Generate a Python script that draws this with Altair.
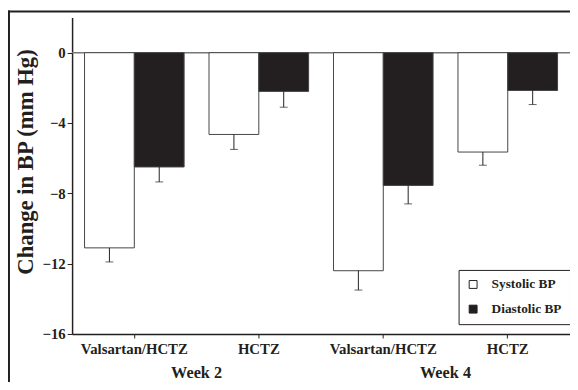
import altair as alt
import pandas as pd

# ---- data ----
groups = ["Valsartan/HCTZ|2", "HCTZ|2", "Valsartan/HCTZ|4", "HCTZ|4"]
series = ["Systolic BP", "Diastolic BP"]
systolic = [-11.1, -4.65, -12.4, -5.65]
systolic_err = [-11.9, -5.5, -13.5, -6.4]
diastolic = [-6.5, -2.2, -7.55, -2.15]
diastolic_err = [-7.35, -3.1, -8.6, -2.95]
weeks = ["Week 2", "Week 4"]
week_pos = [1, 3]
y_ticks = [0, -4, -8, -12, -16]

rows = []
for i, g in enumerate(groups):
    rows.append({"group": g, "series": series[0], "value": systolic[i], "err": systolic_err[i]})
    rows.append({"group": g, "series": series[1], "value": diastolic[i], "err": diastolic_err[i]})
df = pd.DataFrame(rows)
wk = pd.DataFrame({"week": weeks, "pos": week_pos})

FONT = "Liberation Serif"
INK = "#231f20"

xenc = alt.X("group:N", sort=groups,
             scale=alt.Scale(paddingInner=0.2, paddingOuter=0.1),
             axis=alt.Axis(title=None, labelExpr="split(datum.label, '|')[0]",
                           labelAngle=0, labelFont=FONT, labelFontSize=15,
                           labelFontWeight="bold", labelColor=INK, labelPadding=4,
                           tickSize=4, tickColor=INK, domainColor=INK,
                           domainWidth=1.5))
yenc = alt.Y("value:Q", scale=alt.Scale(domain=[-16, 2], nice=False, zero=False),
             axis=alt.Axis(values=y_ticks, title="Change in BP (mm Hg)", grid=False,
                           labelFont=FONT, labelFontSize=15, labelFontWeight="bold",
                           labelColor=INK, tickSize=5, tickColor=INK, labelPadding=2,
                           domainColor=INK, domainWidth=1.5,
                           titleFont=FONT, titleFontSize=23, titleFontWeight="bold",
                           titleColor=INK, titleAngle=-90, titleX=-47, titleY=146,
                           titleAlign="center", titleBaseline="middle"))
xoff = alt.XOffset("series:N", sort=series, scale=alt.Scale(paddingInner=0, paddingOuter=0))

base = alt.Chart(df)

bars = base.mark_bar(stroke="#444444", strokeWidth=1).encode(
    x=xenc, xOffset=xoff, y=yenc,
    fill=alt.Fill("series:N", sort=series,
                  scale=alt.Scale(domain=series, range=["#ffffff", INK]),
                  legend=alt.Legend(title=None, orient="none", legendX=392, legendY=256,
                                    symbolType="square", symbolSize=64,
                                    symbolStrokeColor=INK, symbolStrokeWidth=1,
                                    labelFont=FONT, labelFontSize=13.5,
                                    labelFontWeight="bold", labelColor=INK,
                                    labelOffset=12, rowPadding=10, padding=8,
                                    strokeColor=INK, fillColor="white")),
)

err_lines = base.mark_rule(color=INK, strokeWidth=1).encode(
    x=alt.X("group:N", sort=groups), xOffset=xoff,
    y=alt.Y("value:Q"), y2="err:Q")

caps = base.mark_tick(color=INK, thickness=1, size=8).encode(
    x=alt.X("group:N", sort=groups), xOffset=xoff, y=alt.Y("err:Q"))

zero = alt.Chart(pd.DataFrame({"z": [0]})).mark_rule(color="#777777", strokeWidth=1.5).encode(
    y=alt.Y("z:Q"))

frame_df = pd.DataFrame({"f": [0]})
frame_left = alt.Chart(frame_df).mark_rule(color=INK, strokeWidth=2).encode(
    x=alt.value(-64), y=alt.value(-7), y2=alt.value(380))
frame_top = alt.Chart(frame_df).mark_rule(color=INK, strokeWidth=2).encode(
    x=alt.value(-65), x2=alt.value(520), y=alt.value(-6))

main = alt.layer(zero, bars, err_lines, caps, frame_left, frame_top)

week_text = alt.Chart(wk).mark_text(font=FONT, fontSize=16.5, fontWeight="bold",
                                   color=INK, baseline="alphabetic").encode(
    x=alt.X("pos:Q", scale=alt.Scale(domain=[0, 4]), axis=None),
    y=alt.value(366),
    text="week:N")

chart = alt.layer(main, week_text).resolve_scale(x="independent").properties(
    width=505, height=321,
    autosize=alt.AutoSizeParams(type="none"),
    padding={"left": 65, "top": 7, "right": 0, "bottom": 46},
).configure_view(stroke=None)

chart.save("out.html", embed_options={"renderer": "svg", "actions": False})
